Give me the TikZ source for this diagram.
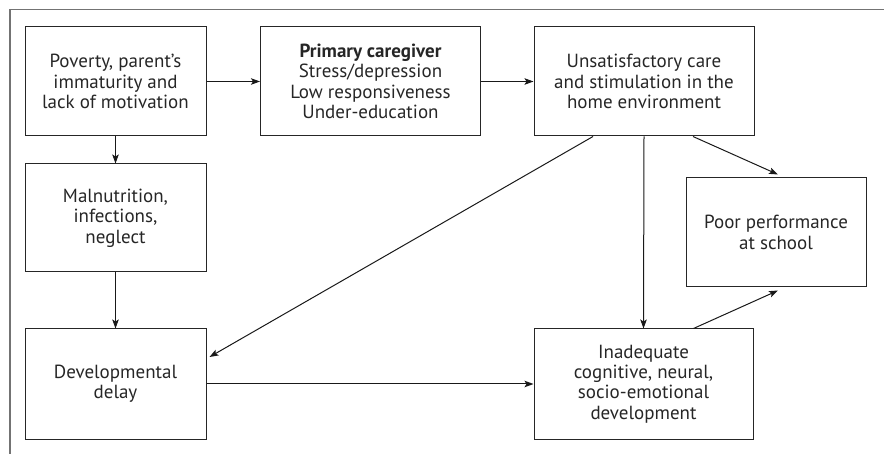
\documentclass[tikz,border=0pt]{standalone}
\usepackage{fontspec}
\setmainfont{PT Sans}
\usetikzlibrary{arrows.meta,calc}
\begin{document}
\begin{tikzpicture}[x=1pt,y=-1pt,
  box/.style={draw=black!85,line width=1pt,align=center,inner sep=2pt,
    font=\fontsize{19}{20.3}\selectfont,text=black!85},
  arr/.style={draw=black!90,line width=1pt,-{Stealth[length=9pt,width=6.5pt,inset=2pt]}},
  frame/.style={draw=black!55,line width=1.5pt}]
\useasboundingbox (0,0) rectangle (884,454);
\coordinate (ftl) at (10,9.5);
\coordinate (ftr) at (884,9.5);
\coordinate (fbl) at (10,454);
\draw[frame] (fbl) -- (ftl) -- (ftr);
\node[box,minimum width=181pt,minimum height=109pt] (pov) at (115.5,81.5)
  {Poverty, parent's\\immaturity and\\lack of motivation};
\node[box,minimum width=220pt,minimum height=109pt] (pc) at (370.5,81.5)
  {\textbf{Primary caregiver}\\Stress/depression\\Low responsiveness\\Under-education};
\node[box,minimum width=220pt,minimum height=109pt] (uns) at (644,81.5)
  {Unsatisfactory care\\and stimulation in the\\home environment};
\node[box,minimum width=181pt,minimum height=108pt] (mal) at (115.5,218)
  {Malnutrition,\\infections,\\neglect};
\node[box,minimum width=181pt,minimum height=110pt] (dev) at (115.5,384)
  {Developmental\\delay};
\node[box,minimum width=219pt,minimum height=110pt] (ina) at (643.5,384)
  {Inadequate\\cognitive, neural,\\socio-emotional\\development};
\node[box,minimum width=180pt,minimum height=109pt] (poor) at (776,232.5)
  {Poor performance\\at school};
\draw[arr] (pov) -- (pc);
\draw[arr] (pc) -- (uns);
\draw[arr] (pov) -- (mal);
\draw[arr] (mal) -- (dev);
\draw[arr] ([xshift=-51pt]uns.south) -- ([yshift=27pt,xshift=3pt]dev.east);
\draw[arr] (uns.south) -- (ina.north);
\draw[arr] ([xshift=49pt]uns.south) -- ([xshift=2pt,yshift=3pt]poor.north);
\draw[arr] ([xshift=50pt]ina.north) -- ([xshift=2pt,yshift=-3pt]poor.south);
\draw[arr] (dev) -- (ina);
\end{tikzpicture}
\end{document}
